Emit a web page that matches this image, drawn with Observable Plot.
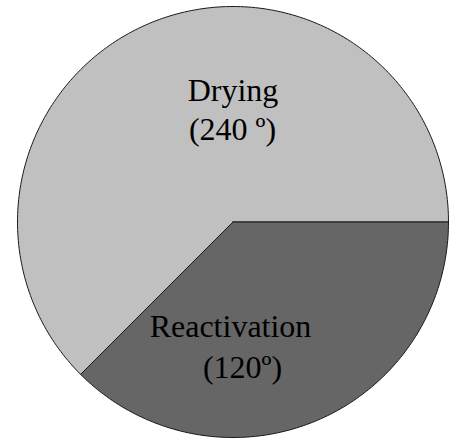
<!DOCTYPE html>
<html>
<head>
<meta charset="utf-8">
<script src="https://cdn.jsdelivr.net/npm/d3@7"></script>
<script src="https://cdn.jsdelivr.net/npm/@observablehq/plot@0.6"></script>
<style>
  html, body { margin: 0; padding: 0; background: #fff; }
  svg { display: block; }
</style>
</head>
<body>
<div id="chart"></div>
<script>
// Slices as drawn (angle of each wedge in degrees, as it appears in the picture)
const sliceNames = ["Drying", "Reactivation"];
const sliceAngles = [225, 135];
// Label lines shown on the chart
const labelLine1 = ["Drying", "Reactivation"];
const labelLine2 = ["(240 º)", "(120º)"];

const W = 451, H = 439;
const cx = 232.5, cy = 221.5, R = 215.5;

// Build wedge polygons in unit-circle coordinates (y up).
// Reactivation wedge runs clockwise from east; Drying fills the rest.
const wedges = [];
{
  const starts = [0, 0];
  const dirs = [1, -1]; // Drying counter-clockwise, Reactivation clockwise
  sliceNames.forEach((name, i) => {
    const pts = [{name, x: 0, y: 0}];
    const n = Math.ceil(sliceAngles[i]);
    for (let k = 0; k <= n; k++) {
      const a = (starts[i] + dirs[i] * sliceAngles[i] * k / n) * Math.PI / 180;
      pts.push({name, x: Math.cos(a), y: Math.sin(a)});
    }
    pts.push({name, x: 0, y: 0});
    wedges.push(...pts);
  });
}

// pixel -> data helpers for label placement
const px = (p) => (p - cx) / R;
const py = (p) => (cy - p) / R;

const fs = 32;
const textOpts = {
  fontFamily: "Liberation Serif, Times New Roman, serif",
  fontSize: fs,
  fill: "#000",
  textAnchor: "middle"
};

const chart = Plot.plot({
  width: W,
  height: H,
  marginLeft: cx - R,
  marginRight: W - (cx + R),
  marginTop: cy - R,
  marginBottom: H - (cy + R),
  x: {domain: [-1, 1], axis: null},
  y: {domain: [-1, 1], axis: null},
  color: {domain: sliceNames, range: ["#c0c0c0", "#666666"]},
  style: {background: "#fff"},
  marks: [
    Plot.line(wedges, {x: "x", y: "y", z: "name", fill: "name", stroke: "#1a1a1a", strokeWidth: 1, curve: "linear", strokeLinejoin: "round"}),
    Plot.text([labelLine1[0]], {...textOpts, x: px(232.5), y: py(100 - 0.32 * fs), text: d => d}),
    Plot.text([labelLine2[0]], {...textOpts, x: px(232), y: py(139 - 0.32 * fs), text: d => d}),
    Plot.text([labelLine1[1]], {...textOpts, x: px(230), y: py(336 - 0.32 * fs), text: d => d}),
    Plot.text([labelLine2[1]], {...textOpts, x: px(242), y: py(377 - 0.32 * fs), text: d => d})
  ]
});
document.getElementById("chart").appendChild(chart);
</script>
</body>
</html>
